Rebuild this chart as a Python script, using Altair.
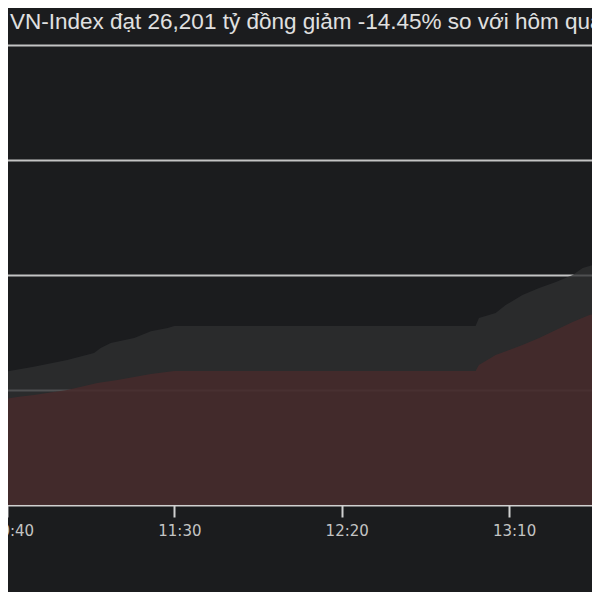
import altair as alt
import pandas as pd

# minutes since midnight and cumulative traded value (ty dong)
prev_min = [637, 648, 658, 666, 668, 671, 678, 683, 688, 690, 780, 781, 786, 789, 794, 799, 804, 809, 812, 818]
prev_val = [11450, 12030, 12610, 13220, 13650, 14090, 14520, 15100, 15390, 15570, 15570, 16260, 16700, 17390, 18260, 18870, 19390, 20000, 20610, 21100]

today_min = [637, 643, 648, 658, 667, 673, 683, 690, 780, 781, 786, 794, 799, 804, 809, 814, 818]
today_val = [9080, 9390, 9570, 10000, 10610, 10870, 11400, 11650, 11650, 12170, 13040, 13910, 14520, 15220, 15910, 16520, 16800]

tick_min = [640, 690, 740, 790]
grid_vals = [10000, 20000, 30000, 40000]
title_text = "VN-Index đạt 26,201 tỷ đồng giảm -14.45% so với hôm qua"

BG = "#1b1c1e"

df_prev = pd.DataFrame({"t": prev_min, "v": prev_val})
df_today = pd.DataFrame({"t": today_min, "v": today_val})
df_title = pd.DataFrame({"txt": [title_text]})

xs = alt.Scale(domain=[637.91, 817.17], nice=False, zero=False)
ys = alt.Scale(domain=[0, 40000], nice=False)

x_axis = alt.Axis(
    values=tick_min,
    labelExpr="floor(datum.value/60) + ':' + (datum.value % 60 < 10 ? '0' : '') + (datum.value % 60)",
    grid=False, title=None,
    domainColor="#d0d0d0", domainWidth=2,
    tickColor="#d0d0d0", tickWidth=2, tickSize=12,
    labelColor="#c4c4c4", labelFont="DejaVu Sans", labelFontSize=15,
    labelPadding=6, labelOffset=5, labelFlush=False, labelOverlap=False,
)
y_axis = alt.Axis(
    values=grid_vals, grid=True, gridColor="#c4c4c4", gridWidth=2,
    labels=False, ticks=False, domain=False, title=None,
)

prev_area = alt.Chart(df_prev).mark_area(
    color="#2e2f31", opacity=0.78, clip=True, interpolate="linear"
).encode(
    x=alt.X("t:Q", scale=xs, axis=x_axis),
    y=alt.Y("v:Q", scale=ys, axis=y_axis),
)

today_area = alt.Chart(df_today).mark_area(
    color="#472a2b", opacity=0.85, clip=True, interpolate="linear"
).encode(
    x=alt.X("t:Q", scale=xs),
    y=alt.Y("v:Q", scale=ys),
)

title = alt.Chart(df_title).mark_text(
    align="left", baseline="alphabetic", font="Liberation Sans",
    fontSize=22.5, color="#e0e0e0"
).encode(
    x=alt.value(10), y=alt.value(-16), text="txt:N"
)

chart = alt.layer(prev_area, today_area, title).properties(
    width=600, height=460,
    autosize=alt.AutoSizeParams(type="none"),
    padding={"left": -8, "top": 37, "right": -8, "bottom": 87},
    background=BG,
).configure_view(stroke=None)

chart.save("out.html", embed_options={"renderer": "svg", "actions": False})
